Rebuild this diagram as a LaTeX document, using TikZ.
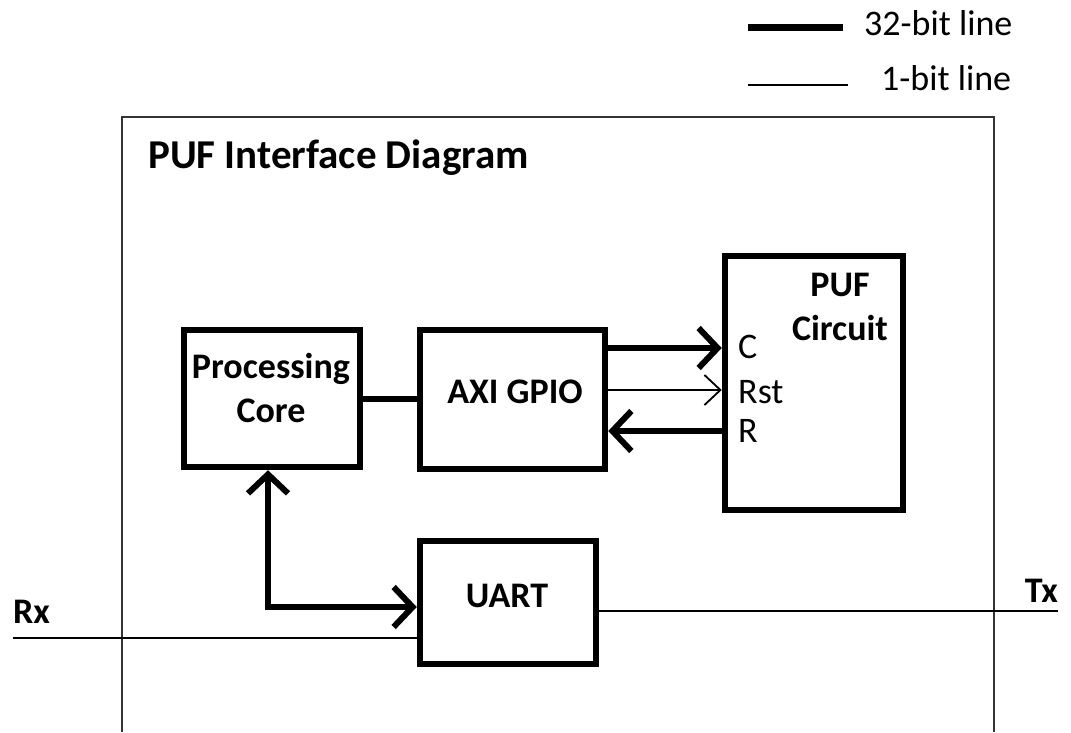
\documentclass[tikz,border=0pt]{standalone}
\usepackage{fontspec}
\setmainfont{Carlito}
\usetikzlibrary{arrows.meta}
\begin{document}
\begin{tikzpicture}[x=1pt,y=-1pt,
  box/.style={draw, line width=6.5pt, inner sep=0pt},
  txt/.style={inner sep=0pt, font=\fontsize{36}{44}\selectfont},
  btxt/.style={txt, font=\fontsize{36}{44}\selectfont\bfseries},
  thickln/.style={line width=6pt},
  thinln/.style={line width=1.8pt},
  bigtip/.style={arrows={-{Straight Barb[length=19pt,width=40pt]}}},
  bothtip/.style={arrows={{Straight Barb[length=19pt,width=40pt]}-{Straight Barb[length=19pt,width=40pt]}}},
  smalltip/.style={arrows={-{Straight Barb[length=16pt,width=30pt]}}}
]
\fill[white] (0,0) rectangle (1071,732);
\useasboundingbox (0,0) rectangle (1071,732);

% frame
\draw[line width=2pt, black!80] (122,732) -- (122,117) -- (994,117) -- (994,732);

% legend
\coordinate (l1a) at (748,27);
\coordinate (l1b) at (843,27);
\coordinate (l2a) at (748,85);
\coordinate (l2b) at (848,85);
\draw[line width=7pt] (l1a) -- (l1b);
\draw[thinln] (l2a) -- (l2b);
\node[txt, anchor=base west] (leg1) at (864,35) {32-bit line};
\node[txt, anchor=base west] (leg2) at (881,90) {1-bit line};

% title
\node[inner sep=0pt, font=\fontsize{41}{48}\selectfont\bfseries, anchor=base west] (title) at (148,168) {PUF Interface Diagram};

% boxes
\node[box, minimum width=176pt, minimum height=137pt] (pc) at (272,398.5) {};
\node[box, minimum width=185pt, minimum height=139pt] (axi) at (512.5,399.5) {};
\node[box, minimum width=178pt, minimum height=254pt] (puf) at (814,383) {};
\node[box, minimum width=176pt, minimum height=123pt] (uart) at (508,602.5) {};

% box texts
\node[btxt, align=center, anchor=base] (pct) at (271,422) {Processing\\Core};
\node[btxt, anchor=base] (axit) at (515,403) {AXI GPIO};
\node[btxt, align=center, anchor=base] (puft) at (840,340) {PUF\\Circuit};
\node[btxt, anchor=base] (uartt) at (507,607) {UART};
\node[txt, anchor=base west] (cl) at (738,358) {C};
\node[txt, anchor=base west] (rstl) at (738,403) {Rst};
\node[txt, anchor=base west] (rl) at (738,442) {R};

% connectors
\draw[thickln] (pc.east) -- (pc.east -| axi.west);
\draw[thickln, bigtip] ([yshift=51.5pt]axi.east) -- ([yshift=51.5pt]axi.east -| puf.west);
\draw[thinln, smalltip] ([yshift=9.5pt]axi.east) -- ([yshift=9.5pt]axi.east -| puf.west);
\draw[thickln, bigtip] ([yshift=-31.5pt]axi.east -| puf.west) -- ([yshift=-31.5pt]axi.east);
\draw[thickln, bothtip] ([xshift=-4pt]pc.south) |- ([yshift=-4.5pt]uart.west);

% Rx / Tx
\coordinate (rx) at (13,638);
\coordinate (tx) at (1058,611);
\draw[thinln] (rx) -- (rx -| uart.west);
\draw[thinln] (uart.east |- tx) -- (tx);
\node[btxt, anchor=base west] (rxl) at (13,623) {Rx};
\node[btxt, anchor=base east] (txl) at (1058,602) {Tx};
\end{tikzpicture}
\end{document}
